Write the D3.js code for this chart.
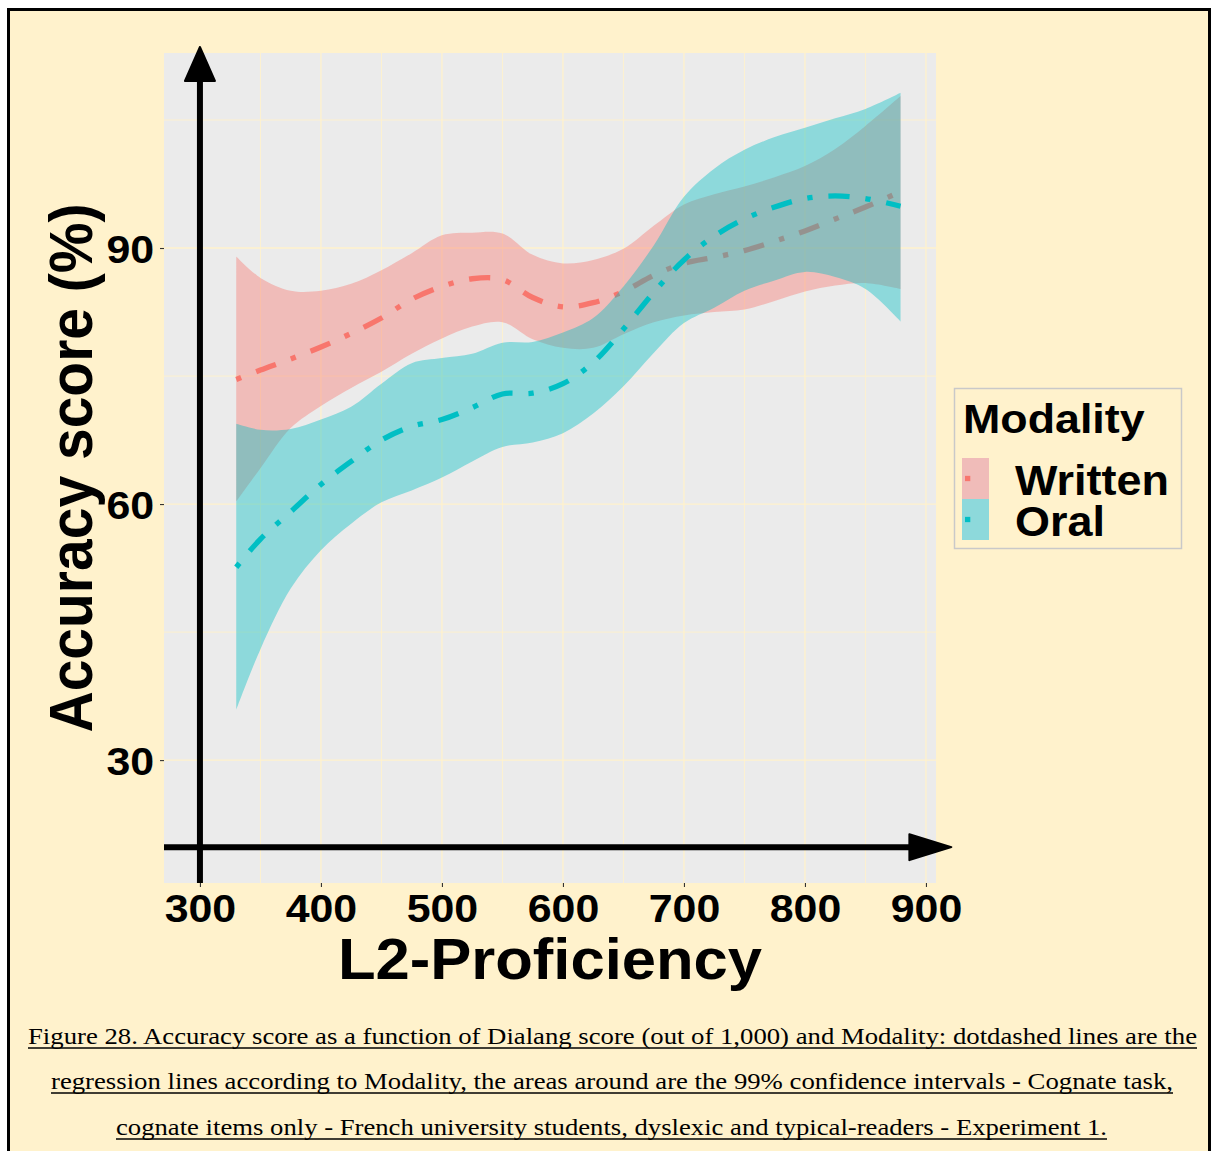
<!DOCTYPE html>
<html>
<head>
<meta charset="utf-8">
<script src="https://cdn.jsdelivr.net/npm/d3@7"></script>
<style>
  body { margin: 0; background: #fff; }
  svg { display: block; }
  text { font-family: "Liberation Sans", Arial, sans-serif; font-weight: bold; }
</style>
</head>
<body>
<svg id="chart" width="1212" height="1151"></svg>
<script>
var xs          = [330, 350, 375, 400, 425, 450, 475, 500, 525, 550, 575, 600, 625, 650, 675, 700, 725, 750, 775, 800, 825, 850, 879];
// Written modality: fit, lower and upper 99% CI
var writtenFit  = [74.6, 75.7, 77.0, 78.4, 80.0, 81.8, 84.0, 85.5, 86.4, 86.3, 84.2, 83.1, 83.6, 84.9, 86.8, 88.2, 88.9, 89.7, 90.8, 92.0, 93.4, 94.8, 96.6];
var writtenLo   = [60.3, 64.2, 68.9, 71.5, 73.6, 75.5, 77.6, 79.4, 80.8, 81.3, 79.3, 78.3, 78.3, 79.9, 81.3, 82.1, 82.5, 82.8, 83.8, 84.9, 85.6, 85.9, 85.2];
var writtenHi   = [89.0, 86.5, 85.0, 85.0, 85.8, 87.4, 89.4, 91.5, 91.8, 91.7, 89.2, 88.2, 88.6, 89.9, 92.6, 95.1, 96.3, 97.2, 98.3, 99.6, 101.6, 104.3, 107.8];
// Oral modality: fit, lower and upper 99% CI
var oralFit     = [52.6, 55.9, 59.1, 62.3, 65.0, 67.5, 69.1, 69.9, 71.3, 72.9, 73.0, 74.1, 76.6, 80.5, 84.8, 88.6, 91.4, 93.4, 94.8, 95.8, 96.1, 95.8, 94.9];
var oralLo      = [35.9, 43.0, 50.1, 54.6, 57.7, 60.2, 61.6, 63.1, 65.0, 66.7, 67.2, 68.3, 70.6, 73.8, 77.7, 81.2, 83.0, 85.0, 86.2, 87.2, 86.6, 85.2, 81.4];
var oralHi      = [69.4, 68.7, 68.8, 69.9, 71.4, 74.1, 76.5, 77.1, 77.6, 78.9, 79.0, 80.1, 81.8, 85.5, 90.3, 96.0, 99.3, 101.5, 103.0, 104.1, 105.2, 106.3, 108.2];

var modalities  = ["Written", "Oral"];
var colors      = ["#F8766D", "#00BFC4"];
var xTicks      = [300, 400, 500, 600, 700, 800, 900];
var xMinor      = [350, 450, 550, 650, 750, 850];
var yTicks      = [30, 60, 90];
var yMinor      = [45, 75, 105];
var captionLines = [
  "Figure 28. Accuracy score as a function of Dialang score (out of 1,000) and Modality: dotdashed lines are the",
  "regression lines according to Modality, the areas around are the 99% confidence intervals - Cognate task,",
  "cognate items only - French university students, dyslexic and typical-readers - Experiment 1."
];

var cream = "#FFF2CC", panelBg = "#EBEBEB";
var panel = {left: 164, right: 936, top: 53, bottom: 883};
var stretch = 1.08; // the original picture is a little wider than tall

var svg = d3.select("#chart");

// page background + frame
svg.append("rect").attr("x", 8.5).attr("y", 9.5).attr("width", 1201).attr("height", 1170)
    .attr("fill", cream).attr("stroke", "#000").attr("stroke-width", 3);

var x = d3.scaleLinear().domain([270.3, 908.3]).range([panel.left, panel.right]);
var y = d3.scaleLinear().domain([15.6, 112.85]).range([panel.bottom, panel.top]);

svg.append("rect")
    .attr("x", panel.left).attr("y", panel.top)
    .attr("width", panel.right - panel.left).attr("height", panel.bottom - panel.top)
    .attr("fill", panelBg);

var grid = svg.append("g").attr("stroke", cream);
grid.selectAll(".vminor").data(xMinor).enter().append("line")
    .attr("x1", d => x(d)).attr("x2", d => x(d)).attr("y1", panel.top).attr("y2", panel.bottom)
    .attr("stroke-width", 0.9);
grid.selectAll(".hminor").data(yMinor).enter().append("line")
    .attr("y1", d => y(d)).attr("y2", d => y(d)).attr("x1", panel.left).attr("x2", panel.right)
    .attr("stroke-width", 0.9);
grid.selectAll(".vmajor").data(xTicks).enter().append("line")
    .attr("x1", d => x(d)).attr("x2", d => x(d)).attr("y1", panel.top).attr("y2", panel.bottom)
    .attr("stroke-width", 1.3);
grid.selectAll(".hmajor").data(yTicks).enter().append("line")
    .attr("y1", d => y(d)).attr("y2", d => y(d)).attr("x1", panel.left).attr("x2", panel.right)
    .attr("stroke-width", 1.3);

// smooths: ribbon then line, group by group (so Oral ribbon covers Written line)
var series = [
  {name: "Written", fit: writtenFit, lo: writtenLo, hi: writtenHi, color: colors[0]},
  {name: "Oral",    fit: oralFit,    lo: oralLo,    hi: oralHi,    color: colors[1]}
];

var curve = d3.curveCatmullRom.alpha(0.5);
var lw = 5.3;
var dotdash = [lw, 3 * lw, 4 * lw, 3 * lw].join(" ");

series.forEach(function(s) {
  var pts = xs.map((d, i) => ({x: d, fit: s.fit[i], lo: s.lo[i], hi: s.hi[i]}));
  var area = d3.area().curve(curve)
      .x(d => x(d.x)).y0(d => y(d.lo)).y1(d => y(d.hi));
  var line = d3.line().curve(curve)
      .x(d => x(d.x)).y(d => y(d.fit));
  svg.append("path").datum(pts).attr("d", area)
      .attr("fill", s.color).attr("fill-opacity", 0.4);
  svg.append("path").datum(pts).attr("d", line)
      .attr("fill", "none").attr("stroke", s.color).attr("stroke-width", lw)
      .attr("stroke-dasharray", dotdash);
});

// axes (ticks + labels only)
var xAxis = svg.append("g")
    .attr("transform", "translate(0," + panel.bottom + ")")
    .call(d3.axisBottom(x).tickValues(xTicks).tickSize(4).tickPadding(7));
var yAxis = svg.append("g")
    .attr("transform", "translate(" + panel.left + ",0)")
    .call(d3.axisLeft(y).tickValues(yTicks).tickSize(4).tickPadding(5));
[xAxis, yAxis].forEach(function(a) {
  a.select(".domain").remove();
  a.selectAll(".tick line").attr("stroke", "#333").attr("stroke-width", 1.1);
  a.selectAll(".tick text")
      .attr("fill", "#000").style("font-size", "39px")
      .style("font-family", "'Liberation Sans', Arial, sans-serif").style("font-weight", "bold");
});
xAxis.selectAll(".tick text").attr("transform", "scale(" + (stretch + 0.02) + ",1)");
yAxis.selectAll(".tick text").attr("dy", "0.37em").attr("transform", "scale(" + (stretch + 0.02) + ",1)");

// arrow axes drawn as annotations
var arrowX = 300, arrowYTip = 113.55;
var arrowY = 19.8, arrowXTip = 921;
var ax = x(arrowX);
svg.append("line")
    .attr("x1", ax).attr("x2", ax).attr("y1", panel.bottom).attr("y2", y(arrowYTip) + 30)
    .attr("stroke", "#000").attr("stroke-width", 6);
svg.append("path")
    .attr("d", "M" + ax + "," + y(arrowYTip) + "L" + (ax - 15) + "," + (y(arrowYTip) + 34) +
               "L" + (ax + 15) + "," + (y(arrowYTip) + 34) + "Z")
    .attr("fill", "#000").attr("stroke", "#000").attr("stroke-width", 2).attr("stroke-linejoin", "round");
var ay = y(arrowY);
svg.append("line")
    .attr("x1", panel.left).attr("x2", x(arrowXTip) - 38).attr("y1", ay).attr("y2", ay)
    .attr("stroke", "#000").attr("stroke-width", 6);
svg.append("path")
    .attr("d", "M" + x(arrowXTip) + "," + ay + "L" + (x(arrowXTip) - 42) + "," + (ay - 13) +
               "L" + (x(arrowXTip) - 42) + "," + (ay + 13) + "Z")
    .attr("fill", "#000").attr("stroke", "#000").attr("stroke-width", 2).attr("stroke-linejoin", "round");

// axis titles
svg.append("text")
    .attr("transform", "translate(" + ((panel.left + panel.right) / 2) + ",979) scale(" + stretch + ",1)")
    .attr("text-anchor", "middle").style("font-size", "57px")
    .text("L2-Proficiency");
svg.append("text")
    .attr("transform", "translate(92," + ((panel.top + panel.bottom) / 2) + ") scale(" + stretch + ",1) rotate(-90)")
    .attr("text-anchor", "middle").style("font-size", "57px")
    .text("Accuracy score (%)");

// legend
var legend = svg.append("g");
legend.append("rect").attr("x", 954.5).attr("y", 388.5).attr("width", 227).attr("height", 160)
    .attr("fill", cream).attr("stroke", "#c9c9c9").attr("stroke-width", 1.5);
legend.append("text")
    .attr("transform", "translate(963,433) scale(1.12,1)")
    .style("font-size", "40px").text("Modality");
series.forEach(function(s, i) {
  var ky = 458 + i * 41;
  legend.append("rect").attr("x", 962).attr("y", ky).attr("width", 27).attr("height", 41)
      .attr("fill", panelBg);
  legend.append("rect").attr("x", 962).attr("y", ky).attr("width", 27).attr("height", 41)
      .attr("fill", s.color).attr("fill-opacity", 0.4);
  legend.append("line").attr("x1", 965).attr("x2", 984).attr("y1", ky + 20.5).attr("y2", ky + 20.5)
      .attr("stroke", s.color).attr("stroke-width", lw).attr("stroke-dasharray", dotdash);
  legend.append("text")
      .attr("transform", "translate(1015," + (ky + 37) + ") scale(1.07,1)")
      .style("font-size", "42px").text(modalities[i]);
});

// caption
var capX = [[28, 1197], [51, 1173], [116, 1107]];
var capY = [1044, 1089, 1135];
captionLines.forEach(function(t, i) {
  svg.append("text")
      .attr("x", capX[i][0]).attr("y", capY[i])
      .attr("textLength", capX[i][1] - capX[i][0]).attr("lengthAdjust", "spacingAndGlyphs")
      .style("font-family", "'Liberation Serif', 'Times New Roman', serif")
      .style("font-weight", "normal").style("font-size", "24px")
      .text(t);
  svg.append("line")
      .attr("x1", capX[i][0]).attr("x2", capX[i][1]).attr("y1", capY[i] + 4).attr("y2", capY[i] + 4)
      .attr("stroke", "#000").attr("stroke-width", 1.3);
});
</script>
</body>
</html>
